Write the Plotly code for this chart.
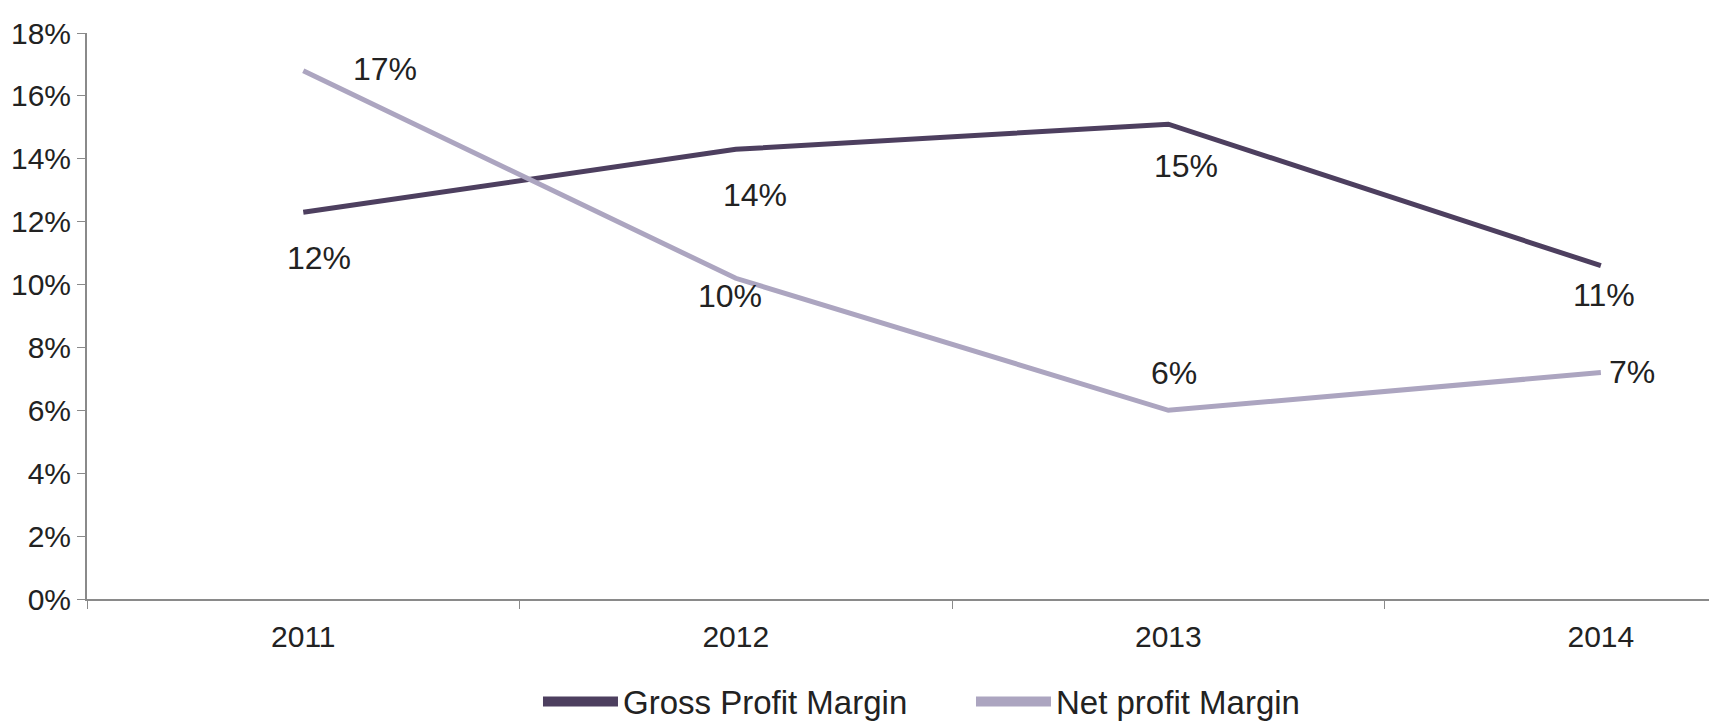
import plotly.graph_objects as go

# Profit margins by year (percent)
years = ["2011", "2012", "2013", "2014"]
gross_margin = [12.3, 14.3, 15.1, 10.6]
net_margin = [16.8, 10.2, 6.0, 7.2]
y_ticks = [0, 2, 4, 6, 8, 10, 12, 14, 16, 18]
y_tick_text = [f"{t}%" for t in y_ticks]

# Label offsets (px) relative to each point: (right, up)
gross_offsets = [(16, -46), (19, -46), (18, -42), (3, -29)]
net_offsets = [(82, 2), (-6, -18), (6, 37), (31, 1)]

GROSS_COLOR = "#4d3f5f"
NET_COLOR = "#aca5c0"
FONT = "Arial, Liberation Sans, sans-serif"
TEXT_COLOR = "#222222"
AXIS_COLOR = "#8a8a8a"

fig = go.Figure()
for name, values, color in (("Gross Profit Margin", gross_margin, GROSS_COLOR),
                            ("Net profit Margin", net_margin, NET_COLOR)):
    # data line
    fig.add_trace(go.Scatter(
        x=years, y=values, mode="lines", name=name, legendgroup=name,
        showlegend=False, line=dict(color=color, width=5),
    ))
    # heavier legend key for the same series
    fig.add_trace(go.Scatter(
        x=[None], y=[None], mode="lines", name=name, legendgroup=name,
        showlegend=True, line=dict(color=color, width=11),
    ))

annotations = []
for series, offsets in ((gross_margin, gross_offsets), (net_margin, net_offsets)):
    for i, (v, (dx, dy)) in enumerate(zip(series, offsets)):
        annotations.append(dict(
            x=i, y=v, xref="x", yref="y", text=f"{v:.0f}%", showarrow=False,
            xshift=dx, yshift=dy, font=dict(family=FONT, size=32, color=TEXT_COLOR),
        ))

fig.update_layout(
    width=1709, height=721,
    margin=dict(l=87, r=0, t=33, b=122, pad=0, autoexpand=False),
    paper_bgcolor="white", plot_bgcolor="white",
    font=dict(family=FONT, size=30, color=TEXT_COLOR),
    showlegend=True,
    legend=dict(
        orientation="h", x=0.545, xanchor="center", y=-0.181, yanchor="middle",
        font=dict(family=FONT, size=33, color=TEXT_COLOR),
        itemwidth=75, entrywidth=343, entrywidthmode="pixels",
    ),
    annotations=annotations,
)
fig.update_xaxes(
    type="category", range=[-0.5, 3.25], tickson="boundaries",
    showline=True, linecolor=AXIS_COLOR, linewidth=2,
    ticks="outside", ticklen=8, tickcolor=AXIS_COLOR, tickwidth=1,
    showgrid=False, zeroline=False, ticklabelstandoff=10,
    tickfont=dict(family=FONT, size=30, color=TEXT_COLOR),
)
fig.update_yaxes(
    range=[0, 18], tickvals=y_ticks, ticktext=y_tick_text,
    showline=True, linecolor=AXIS_COLOR, linewidth=2,
    ticks="outside", ticklen=8, tickcolor=AXIS_COLOR, tickwidth=1,
    showgrid=False, zeroline=False,
    tickfont=dict(family=FONT, size=30, color=TEXT_COLOR),
)

fig.write_html("out.html")
